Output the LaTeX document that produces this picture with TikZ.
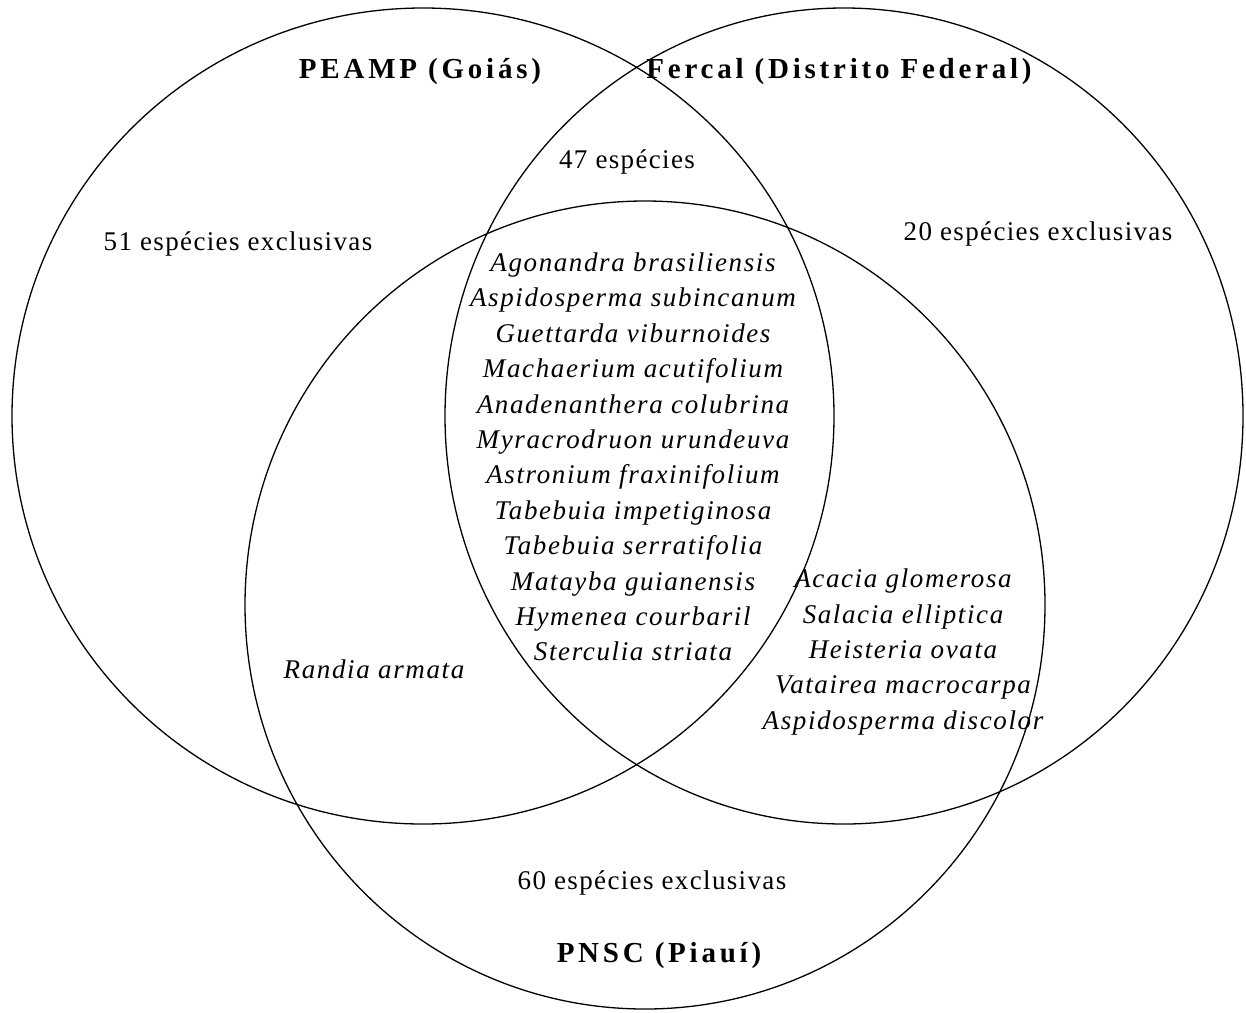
\documentclass[tikz,border=0pt]{standalone}
\usepackage{fontspec}
\setmainfont{Liberation Serif}
\newfontfamily\regfont[LetterSpace=5]{Liberation Serif}
\newfontfamily\spfont[LetterSpace=6]{Liberation Serif}
\newfontfamily\ttlfont[LetterSpace=13]{Liberation Serif}
\begin{document}
\begin{tikzpicture}[x=1pt,y=-1pt,
  ring/.style={draw=black,line width=1.3pt},
  title/.style={font=\ttlfont\fontsize{29}{34}\selectfont\bfseries,inner sep=0pt},
  count/.style={font=\regfont\fontsize{27}{32}\selectfont,inner sep=0pt},
  species/.style={font=\spfont\fontsize{27}{35.4}\selectfont\itshape,align=center,inner sep=0pt}]
  \useasboundingbox[fill=white] (0,0) rectangle (1246,1012);
  % three sets
  \draw[ring] (423,416) ellipse [x radius=411pt, y radius=408pt];
  \draw[ring] (844,416) ellipse [x radius=399pt, y radius=408pt];
  \draw[ring] (645,605) ellipse [x radius=400pt, y radius=404pt];
  % set names
  \node[title] (peamp) at (420,72) {PEAMP (Goiás)};
  \node[title] (fercal) at (839,72) {Fercal (Distrito Federal)};
  \node[title] (pnsc) at (659,955) {PNSC (Piauí)};
  % counts
  \node[count] (c47) at (627,162) {47 espécies};
  \node[count] (c51) at (238,244) {51 espécies exclusivas};
  \node[count] (c20) at (1038,234) {20 espécies exclusivas};
  \node[count] (c60) at (652,883) {60 espécies exclusivas};
  % species lists
  \node[species] (shared) at (633,457) {Agonandra brasiliensis\\Aspidosperma subincanum\\Guettarda viburnoides\\Machaerium acutifolium\\Anadenanthera colubrina\\Myracrodruon urundeuva\\Astronium fraxinifolium\\Tabebuia impetiginosa\\Tabebuia serratifolia\\Matayba guianensis\\Hymenea courbaril\\Sterculia striata};
  \node[species] (fp) at (903,652) {Acacia glomerosa\\Salacia elliptica\\Heisteria ovata\\Vatairea macrocarpa\\Aspidosperma discolor};
  \node[species] (gp) at (374,669) {Randia armata};
\end{tikzpicture}
\end{document}
